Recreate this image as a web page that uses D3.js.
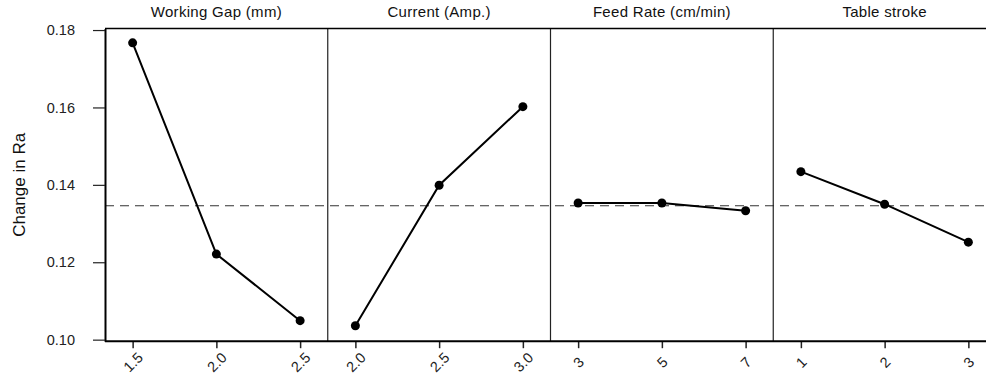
<!DOCTYPE html>
<html>
<head>
<meta charset="utf-8">
<script src="https://cdn.jsdelivr.net/npm/d3@7"></script>
<style>
  body { margin: 0; background: #fff; }
  svg { display: block; font-family: "Liberation Sans", Arial, sans-serif; }
</style>
</head>
<body>
<div class="chart"></div>
<script>
// main effects plot data
const factors = ["Working Gap (mm)", "Current (Amp.)", "Feed Rate (cm/min)", "Table stroke"];
const levels = [["1.5", "2.0", "2.5"], ["2.0", "2.5", "3.0"], ["3", "5", "7"], ["1", "2", "3"]];
const gapMeans = [0.1767, 0.1221, 0.1049];
const currentMeans = [0.1036, 0.1399, 0.1602];
const feedMeans = [0.1353, 0.1353, 0.1333];
const strokeMeans = [0.1434, 0.1350, 0.1252];
const grandMean = 0.1346;
const yTicks = [0.10, 0.12, 0.14, 0.16, 0.18];

const allMeans = [gapMeans, currentMeans, feedMeans, strokeMeans];

const svgWidth = 986, svgHeight = 377;
const margin = { top: 28.5, left: 105, bottom: 36 };
const plotRight = 996;
const plotBottom = 341.2;
const fontSize = "14.5px";

var svg = d3.select("div.chart")
    .append("svg")
    .attr("width", svgWidth)
    .attr("height", svgHeight);

var y = d3.scaleLinear()
    .domain([0.0996, 0.1804])
    .range([plotBottom, margin.top]);

var panel = d3.scaleBand()
    .domain(factors)
    .range([margin.left, plotRight]);

// dashed reference line (grand mean)
svg.append("line")
    .attr("x1", margin.left)
    .attr("x2", plotRight)
    .attr("y1", y(grandMean))
    .attr("y2", y(grandMean))
    .attr("stroke", "#333")
    .attr("stroke-width", 1.2)
    .attr("stroke-dasharray", "9,6");

factors.forEach(function (f, i) {
    var x0 = panel(f);
    var x = d3.scalePoint()
        .domain(levels[i])
        .range([0, panel.bandwidth()])
        .padding(0.33);

    var g = svg.append("g")
        .attr("transform", "translate(" + x0 + ",0)");

    // separator
    if (i > 0) {
        g.append("line")
            .attr("x1", 0).attr("x2", 0)
            .attr("y1", margin.top).attr("y2", plotBottom)
            .attr("stroke", "#222")
            .attr("stroke-width", 1.2);
    }

    // panel title
    g.append("text")
        .attr("x", panel.bandwidth() / 2)
        .attr("y", 17)
        .attr("text-anchor", "middle")
        .style("font-size", "15px")
        .style("letter-spacing", "0.3px")
        .attr("fill", "#111")
        .text(f);

    // x axis
    var xAxis = g.append("g")
        .attr("transform", "translate(0," + plotBottom + ")")
        .call(d3.axisBottom(x).tickSize(7).tickSizeOuter(0));
    xAxis.select(".domain").remove();
    xAxis.selectAll(".tick line").attr("stroke", "#222").attr("stroke-width", 1.5);
    xAxis.selectAll(".tick text")
        .attr("y", 0)
        .attr("dy", "0.35em")
        .attr("transform", "translate(0,21) rotate(-45)")
        .style("text-anchor", "middle")
        .style("font-size", fontSize)
        .style("font-family", "Liberation Sans, Arial, sans-serif")
        .attr("fill", "#222");

    var pts = levels[i].map(function (l, j) { return { level: l, mean: allMeans[i][j] }; });

    g.append("path")
        .datum(pts)
        .attr("fill", "none")
        .attr("stroke", "#000")
        .attr("stroke-width", 2)
        .attr("d", d3.line()
            .x(function (d) { return x(d.level); })
            .y(function (d) { return y(d.mean); }));

    g.selectAll("circle")
        .data(pts)
        .enter()
        .append("circle")
        .attr("cx", function (d) { return x(d.level); })
        .attr("cy", function (d) { return y(d.mean); })
        .attr("r", 4.5)
        .attr("fill", "#000");
});

// frame: top border and bottom axis line
svg.append("line")
    .attr("x1", margin.left).attr("x2", plotRight)
    .attr("y1", margin.top).attr("y2", margin.top)
    .attr("stroke", "#000").attr("stroke-width", 1.5);
svg.append("line")
    .attr("x1", margin.left).attr("x2", plotRight)
    .attr("y1", plotBottom).attr("y2", plotBottom)
    .attr("stroke", "#000").attr("stroke-width", 2);

// y axis
var yAxis = svg.append("g")
    .attr("transform", "translate(" + margin.left + ",0)")
    .call(d3.axisLeft(y).tickValues(yTicks).tickFormat(d3.format(".2f"))
        .tickSize(12).tickSizeOuter(0).tickPadding(18));
yAxis.select(".domain").attr("stroke", "#000").attr("stroke-width", 2);
yAxis.selectAll(".tick line").attr("stroke", "#222").attr("stroke-width", 1.2);
yAxis.selectAll(".tick text")
    .style("font-size", fontSize)
    .style("font-family", "Liberation Sans, Arial, sans-serif")
    .attr("fill", "#222");

svg.append("text")
    .attr("transform", "translate(25," + (margin.top + plotBottom) / 2 + ") rotate(-90)")
    .attr("text-anchor", "middle")
    .style("font-size", "17px")
    .attr("fill", "#111")
    .text("Change in Ra");
</script>
</body>
</html>
